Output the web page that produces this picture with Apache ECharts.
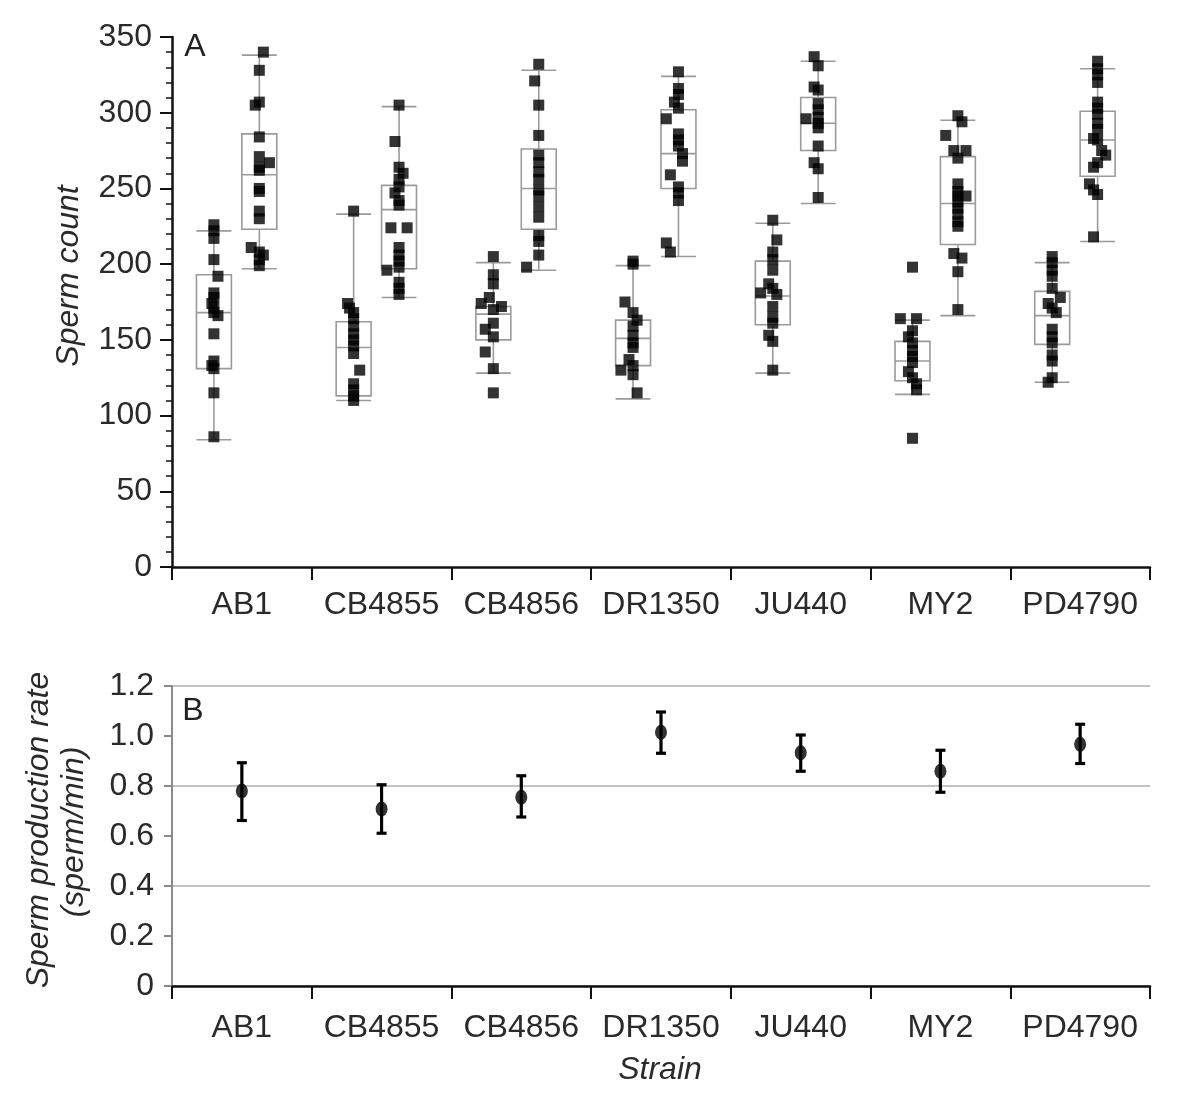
<!DOCTYPE html>
<html>
<head>
<meta charset="utf-8">
<script src="https://cdn.jsdelivr.net/npm/echarts@6/dist/echarts.min.js"></script>
<style>
html,body{margin:0;padding:0;background:#fff;}
#chart{width:1200px;height:1113px;}
</style>
</head>
<body>
<div id="chart"></div>
<script>
// ---------- DATA ----------
const strains = ['AB1','CB4855','CB4856','DR1350','JU440','MY2','PD4790'];

// Panel A box statistics [low whisker, Q1, median, Q3, high whisker]
const leftBoxes = [
  [84, 131, 168, 193, 222],
  [110, 113, 145, 162, 233],
  [128, 150, 167, 172, 201],
  [111, 133, 151, 163, 199],
  [128, 160, 179, 202, 227],
  [114, 123, 136, 149, 163],
  [122, 147, 166, 182, 201]
];
const rightBoxes = [
  [197, 223, 259, 286, 338],
  [178, 197, 236, 252, 304],
  [196, 223, 250, 276, 328],
  [205, 250, 273, 302, 324],
  [240, 275, 293, 310, 334],
  [166, 213, 240, 271, 295],
  [215, 258, 282, 301, 329]
];

// Panel A individual sperm counts
const leftPoints = [
  [226,222,217,203,192,181,178,174,171,168,166,154,136,133,131,115,86],
  [235,174,171,168,164,159,154,150,146,141,130,121,117,113,110],
  [205,193,187,178,174,172,170,161,157,152,142,131,115],
  [202,200,175,168,163,159,153,148,145,137,133,130,127,115],
  [229,216,208,203,196,187,184,181,180,172,165,161,153,149,130],
  [198,164,164,156,152,148,143,139,135,129,125,121,117,85],
  [205,201,196,192,184,178,174,171,168,157,152,148,140,136,125,122]
];
const leftJitter = [
  [0,0,0,0,1,0,0,-0.5,0,0,1,0,0,-0.5,0,0,0],
  [0,-1.5,-1,0,0,0,0,0,0,0,1.5,0,0,0,0],
  [0,0,0,-1,-3,2,0,0,-2,0,-2,0,0],
  [0,0,-2,0,1,0,0,0,0,-1,0,-3,0,1],
  [0,1,0,0,0,-1,0,-3,1,0,0,0,-1,0,0],
  [0,-3,1,0,-1,0,0,0,0,-1,0,1,1,0],
  [0,0,0,0,0,2,-1,0,1,0,0,0,0,0,0,-1]
];
const rightPoints = [
  [340,328,307,305,284,271,267,264,262,250,248,235,230,211,208,206,203,199],
  [305,281,264,260,256,251,247,242,239,224,224,211,206,202,198,196,188,184,180],
  [332,321,305,285,272,267,261,256,249,245,238,231,219,215,206,198],
  [327,316,312,307,303,296,286,282,278,273,268,259,251,247,242,214,208],
  [337,331,317,315,306,302,297,296,293,290,278,267,263,244],
  [298,294,285,275,275,270,253,248,245,245,241,237,233,228,225,207,204,195,170],
  [334,329,325,320,307,303,299,293,289,283,282,275,272,267,264,253,249,246,218]
];
const rightJitter = [
  [1,0,0,-1,0,0,2.5,0,0,0,0,0,0,-2,0,1,0,0],
  [0,-1,0,1,0,0,-1,0,0,-2,2,0,0,0,0,-3,0,0,0],
  [0,-1,0,0,0,0,0,0,0,0,0,0,0,0,0,-3],
  [0,0,0,-1,0,-3,0,0,0,1,1,-2,0,0,0,-3,-2],
  [-1,0,-1,0,0,0,0,-3,0,0,0,-1,0,0],
  [0,1,-3,-1,2,0,0,0,0,2,0,0,0,0,0,-1,1,0,0],
  [0,0,0,0,0,0,0,0,0,-1,0,1,2,0,-1,-2,-1,0,-1]
];

// Panel B sperm production rate (sperm/min)
const rateMean = [0.780, 0.708, 0.755, 1.015, 0.933, 0.859, 0.967];
const rateLow  = [0.662, 0.611, 0.676, 0.931, 0.859, 0.775, 0.890];
const rateHigh = [0.893, 0.805, 0.841, 1.096, 1.004, 0.943, 1.047];

const countTicks = [0, 50, 100, 150, 200, 250, 300, 350];
const rateTicks = [0, 0.2, 0.4, 0.6, 0.8, 1.0, 1.2];

// ---------- LAYOUT CONSTANTS ----------
const LEFT_OFF = -0.2, RIGHT_OFF = 0.125, BOX_W = 0.25, JIT = 0.029;
const FONT = '"Liberation Sans", Arial, Helvetica, sans-serif';
const FS = 32;

// ---------- BUILD ----------
const boxData = [];
const ptData = [];
strains.forEach((s, i) => {
  boxData.push([i + LEFT_OFF].concat(leftBoxes[i]));
  boxData.push([i + RIGHT_OFF].concat(rightBoxes[i]));
  leftPoints[i].forEach((v, k) => ptData.push([i + LEFT_OFF + leftJitter[i][k] * JIT, v]));
  rightPoints[i].forEach((v, k) => ptData.push([i + RIGHT_OFF + rightJitter[i][k] * JIT, v]));
});
const errData = strains.map((s, i) => [i, rateLow[i], rateHigh[i]]);
const meanData = strains.map((s, i) => [i, rateMean[i]]);

const boxStroke = {stroke: '#9a9a9a', lineWidth: 1.6, fill: null};

function renderBox(params, api) {
  const x = api.value(0);
  const pLow = api.coord([x, api.value(1)]);
  const pQ1 = api.coord([x, api.value(2)]);
  const pMed = api.coord([x, api.value(3)]);
  const pQ3 = api.coord([x, api.value(4)]);
  const pHigh = api.coord([x, api.value(5)]);
  const hw = api.size([BOX_W, 0])[0] / 2;
  const cx = pLow[0];
  return {
    type: 'group',
    children: [
      {type: 'line', shape: {x1: cx, y1: pHigh[1], x2: cx, y2: pQ3[1]}, style: boxStroke},
      {type: 'line', shape: {x1: cx, y1: pQ1[1], x2: cx, y2: pLow[1]}, style: boxStroke},
      {type: 'line', shape: {x1: cx - hw, y1: pHigh[1], x2: cx + hw, y2: pHigh[1]}, style: boxStroke},
      {type: 'line', shape: {x1: cx - hw, y1: pLow[1], x2: cx + hw, y2: pLow[1]}, style: boxStroke},
      {type: 'rect', shape: {x: cx - hw, y: pQ3[1], width: 2 * hw, height: pQ1[1] - pQ3[1]}, style: boxStroke},
      {type: 'line', shape: {x1: cx - hw, y1: pMed[1], x2: cx + hw, y2: pMed[1]}, style: boxStroke}
    ]
  };
}

function renderErr(params, api) {
  const x = api.value(0);
  const pLow = api.coord([x, api.value(1)]);
  const pHigh = api.coord([x, api.value(2)]);
  const cx = pLow[0];
  const st = {stroke: '#000', lineWidth: 3.2};
  return {
    type: 'group',
    children: [
      {type: 'line', shape: {x1: cx, y1: pHigh[1], x2: cx, y2: pLow[1]}, style: st},
      {type: 'line', shape: {x1: cx - 5, y1: pHigh[1], x2: cx + 5, y2: pHigh[1]}, style: st},
      {type: 'line', shape: {x1: cx - 5, y1: pLow[1], x2: cx + 5, y2: pLow[1]}, style: st}
    ]
  };
}

const labelStyle = {fontFamily: FONT, fontSize: FS, color: '#2a2a2a'};

const option = {
  backgroundColor: '#fff',
  animation: false,
  grid: [
    {left: 172, top: 37, width: 978, height: 530},
    {left: 172, top: 686, width: 978, height: 300}
  ],
  xAxis: [
    {type: 'category', gridIndex: 0, data: strains, boundaryGap: true,
      axisLine: {lineStyle: {color: '#111', width: 2.5}},
      axisTick: {show: true, length: 13, interval: 0, lineStyle: {color: '#111', width: 2}},
      axisLabel: Object.assign({margin: 22, interval: 0}, labelStyle),
      splitLine: {show: false}},
    {type: 'value', gridIndex: 0, min: -0.5, max: 6.5, show: false},
    {type: 'category', gridIndex: 1, data: strains, boundaryGap: true,
      axisLine: {lineStyle: {color: '#111', width: 2.5}},
      axisTick: {show: true, length: 13, interval: 0, lineStyle: {color: '#111', width: 2}},
      axisLabel: Object.assign({margin: 26, interval: 0}, labelStyle),
      splitLine: {show: false}}
  ],
  yAxis: [
    {type: 'value', gridIndex: 0, min: countTicks[0], max: countTicks[countTicks.length - 1], interval: 50,
      axisLine: {show: true, onZero: false, lineStyle: {color: '#111', width: 2.5}},
      axisTick: {show: true, length: 12, lineStyle: {color: '#111', width: 2}},
      minorTick: {show: true, splitNumber: 5, length: 6, lineStyle: {color: '#111', width: 1.5}},
      axisLabel: Object.assign({margin: 20}, labelStyle),
      splitLine: {show: false}},
    {type: 'value', gridIndex: 1, min: rateTicks[0], max: rateTicks[rateTicks.length - 1], interval: 0.2,
      axisLine: {show: true, onZero: false, lineStyle: {color: '#8a8a8a', width: 2}},
      axisTick: {show: true, length: 8, lineStyle: {color: '#8a8a8a', width: 2}},
      axisLabel: Object.assign({margin: 18, formatter: v => v === 0 ? '0' : v.toFixed(1)}, labelStyle),
      splitLine: {show: false}},
    {type: 'value', gridIndex: 1, min: 0, max: 1.2, interval: 0.4,
      axisLine: {show: false}, axisTick: {show: false}, axisLabel: {show: false},
      splitLine: {show: true, lineStyle: {color: '#c4c4c4', width: 2}}}
  ],
  series: [
    {type: 'custom', xAxisIndex: 1, yAxisIndex: 0, renderItem: renderBox, data: boxData,
      encode: {x: 0, y: [1, 2, 3, 4, 5]}, z: 2, silent: true},
    {type: 'scatter', xAxisIndex: 1, yAxisIndex: 0, data: ptData, symbol: 'rect', symbolSize: 11,
      itemStyle: {color: '#000'}, z: 5, silent: true},
    {type: 'custom', xAxisIndex: 2, yAxisIndex: 1, renderItem: renderErr, data: errData,
      encode: {x: 0, y: [1, 2]}, z: 4, silent: true},
    {type: 'scatter', xAxisIndex: 2, yAxisIndex: 1, data: meanData, symbol: 'circle', symbolSize: [12, 15],
      itemStyle: {color: '#000'}, z: 5, silent: true}
  ],
  graphic: [
    {type: 'text', x: 195, y: 47, style: {text: 'A', font: '32px ' + FONT, fill: '#222', textAlign: 'center', textVerticalAlign: 'middle'}},
    {type: 'text', x: 193, y: 711, style: {text: 'B', font: '32px ' + FONT, fill: '#222', textAlign: 'center', textVerticalAlign: 'middle'}},
    {type: 'text', x: 69, y: 276, rotation: Math.PI / 2,
      style: {text: 'Sperm count', font: 'italic ' + FS + 'px ' + FONT, fill: '#2a2a2a', textAlign: 'center', textVerticalAlign: 'middle'}},
    {type: 'text', x: 39, y: 830, rotation: Math.PI / 2,
      style: {text: 'Sperm production rate', font: 'italic ' + FS + 'px ' + FONT, fill: '#2a2a2a', textAlign: 'center', textVerticalAlign: 'middle'}},
    {type: 'text', x: 74, y: 832, rotation: Math.PI / 2,
      style: {text: '(sperm/min)', font: 'italic ' + FS + 'px ' + FONT, fill: '#2a2a2a', textAlign: 'center', textVerticalAlign: 'middle'}},
    {type: 'text', x: 660, y: 1070,
      style: {text: 'Strain', font: 'italic ' + FS + 'px ' + FONT, fill: '#2a2a2a', textAlign: 'center', textVerticalAlign: 'middle'}}
  ]
};

const chart = echarts.init(document.getElementById('chart'), null, {renderer: 'canvas'});
chart.setOption(option);
</script>
</body>
</html>
